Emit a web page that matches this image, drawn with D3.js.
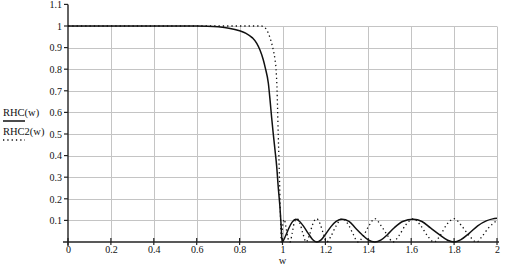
<!DOCTYPE html>
<html>
<head>
<meta charset="utf-8">
<script src="https://cdn.jsdelivr.net/npm/d3@7"></script>
<style>
  body { margin: 0; background: #fff; }
  svg { display: block; }
  text { font-family: "Liberation Serif", "Times New Roman", serif; fill: #111; }
</style>
</head>
<body>
<svg id="chart" width="506" height="267"></svg>
<script>
// values
const xTicks = [0, 0.2, 0.4, 0.6, 0.8, 1, 1.2, 1.4, 1.6, 1.8, 2];
const yTicks = [0.1, 0.2, 0.3, 0.4, 0.5, 0.6, 0.7, 0.8, 0.9, 1, 1.1];
const seriesNames = ["RHC(w)", "RHC2(w)"];

// RHC(w), solid
const wRHC = [0, 0.3, 0.6, 0.65, 0.7, 0.75, 0.8, 0.83, 0.86, 0.88, 0.895, 0.91, 0.92, 0.934, 0.942, 0.949, 0.957, 0.965, 0.973, 0.98, 0.988, 0.994, 0.998,
  1.015, 1.03, 1.045, 1.062, 1.08, 1.1, 1.12, 1.14, 1.16, 1.18, 1.2, 1.225, 1.25, 1.278, 1.31, 1.34, 1.37, 1.4, 1.43,
  1.46, 1.49, 1.52, 1.56, 1.61, 1.65, 1.69, 1.73, 1.77, 1.8, 1.83, 1.87, 1.91, 1.95, 1.98, 2];
const vRHC = [1, 1, 1, 0.999, 0.996, 0.99, 0.978, 0.966, 0.945, 0.92, 0.889, 0.845, 0.805, 0.735, 0.657, 0.58, 0.5, 0.426, 0.349, 0.256, 0.163, 0.07, 0,
  0.03, 0.065, 0.092, 0.105, 0.095, 0.07, 0.04, 0.012, 0, 0.01, 0.035, 0.07, 0.095, 0.105, 0.095, 0.065, 0.035, 0.01, 0,
  0.01, 0.035, 0.065, 0.095, 0.105, 0.095, 0.065, 0.035, 0.008, 0, 0.01, 0.04, 0.075, 0.098, 0.107, 0.11];

// RHC2(w), dotted
const wRHC2 = [0, 0.6, 0.9, 0.915, 0.93, 0.945, 0.957, 0.965, 0.97, 0.974, 0.977, 0.98, 0.983, 0.986, 0.989, 0.992, 0.994,
  1.0, 1.008, 1.016, 1.025, 1.035, 1.045, 1.055, 1.068, 1.08, 1.095, 1.11, 1.125, 1.14, 1.159, 1.175, 1.19, 1.206,
  1.225, 1.25, 1.279, 1.31, 1.33, 1.352, 1.375, 1.4, 1.431, 1.46, 1.49, 1.515, 1.54, 1.575, 1.61, 1.645, 1.675, 1.706,
  1.735, 1.765, 1.8, 1.835, 1.87, 1.905, 1.93, 1.96, 2];
const vRHC2 = [1, 1, 1, 0.995, 0.975, 0.935, 0.889, 0.845, 0.8, 0.72, 0.62, 0.5, 0.4, 0.29, 0.17, 0.07, 0,
  0.07, 0.105, 0.07, 0.02, 0, 0.04, 0.09, 0.108, 0.09, 0.04, 0, 0.03, 0.08, 0.108, 0.085, 0.04, 0,
  0.025, 0.075, 0.108, 0.075, 0.035, 0, 0.025, 0.07, 0.108, 0.075, 0.03, 0, 0.025, 0.08, 0.108, 0.075, 0.03, 0,
  0.03, 0.08, 0.108, 0.075, 0.03, 0, 0.025, 0.065, 0.1];

const svg = d3.select("#chart");

const x = d3.scaleLinear().domain([0, 2]).range([68, 497]);
const y = d3.scaleLinear().domain([0, 1.1]).range([242, 4.4]);

// grid
const grid = svg.append("g").attr("stroke", "#c4c4c4").attr("stroke-width", 1);
grid.selectAll("line.v")
  .data(xTicks.filter(d => d > 0))
  .enter().append("line")
  .attr("x1", d => Math.round(x(d)) + 0.5).attr("x2", d => Math.round(x(d)) + 0.5)
  .attr("y1", y(0)).attr("y2", Math.round(y(1)) + 0.5);
grid.selectAll("line.h")
  .data(yTicks.filter(d => d <= 1))
  .enter().append("line")
  .attr("x1", x(0)).attr("x2", x(2))
  .attr("y1", d => Math.round(y(d)) + 0.5).attr("y2", d => Math.round(y(d)) + 0.5);

// axes
const xAxis = d3.axisBottom(x).tickValues(xTicks).tickSize(0).tickPadding(4)
  .tickFormat(d3.format("~g"));
const gx = svg.append("g").attr("transform", `translate(0,${y(0)})`).call(xAxis);
gx.select(".domain").remove();
gx.selectAll("text").attr("font-size", 10).attr("font-family", "Liberation Serif");

const gy = svg.append("g").attr("transform", `translate(${x(0)},0)`)
  .call(d3.axisLeft(y).tickValues(yTicks).tickSize(0).tickPadding(6).tickFormat(d3.format("~g")));
gy.select(".domain").remove();
gy.selectAll("text").attr("font-size", 10).attr("font-family", "Liberation Serif");

const axisCol = "#222";
svg.append("line").attr("x1", 63).attr("x2", x(2) + 2)
  .attr("y1", y(0)).attr("y2", y(0)).attr("stroke", axisCol).attr("stroke-width", 1.6);
svg.append("line").attr("x1", x(0)).attr("x2", x(0))
  .attr("y1", y(0) + 4).attr("y2", y(1.1)).attr("stroke", axisCol).attr("stroke-width", 1.4);

svg.append("g").selectAll("line")
  .data(xTicks).enter().append("line")
  .attr("x1", d => x(d)).attr("x2", d => x(d))
  .attr("y1", y(0) - 4).attr("y2", y(0) + 3)
  .attr("stroke", axisCol).attr("stroke-width", 1.2);
svg.append("g").selectAll("line")
  .data(yTicks).enter().append("line")
  .attr("x1", x(0) - 4).attr("x2", x(0))
  .attr("y1", d => y(d)).attr("y2", d => y(d))
  .attr("stroke", axisCol).attr("stroke-width", 1.2);

// curves
const line = d3.line().curve(d3.curveMonotoneX)
  .x(d => x(d[0])).y(d => y(d[1]));

svg.append("path")
  .datum(d3.zip(wRHC2, vRHC2))
  .attr("d", line)
  .attr("fill", "none").attr("stroke", "#111").attr("stroke-width", 1.3)
  .attr("stroke-dasharray", "1.3,3");

svg.append("path")
  .datum(d3.zip(wRHC, vRHC))
  .attr("d", line)
  .attr("fill", "none").attr("stroke", "#111").attr("stroke-width", 1.5);

// legend
const legend = svg.append("g");
legend.selectAll("text")
  .data(seriesNames).enter().append("text")
  .attr("x", 3).attr("y", (d, i) => 116 + i * 19)
  .attr("font-size", 10.5)
  .text(d => d);
legend.append("line").attr("x1", 3).attr("x2", 25).attr("y1", 121).attr("y2", 121)
  .attr("stroke", "#111").attr("stroke-width", 1.5);
legend.append("line").attr("x1", 3).attr("x2", 25).attr("y1", 140).attr("y2", 140)
  .attr("stroke", "#111").attr("stroke-width", 1.3).attr("stroke-dasharray", "1.3,3");

svg.append("text").attr("x", x(1)).attr("y", 264)
  .attr("text-anchor", "middle").attr("font-size", 10.5).text("w");
</script>
</body>
</html>
